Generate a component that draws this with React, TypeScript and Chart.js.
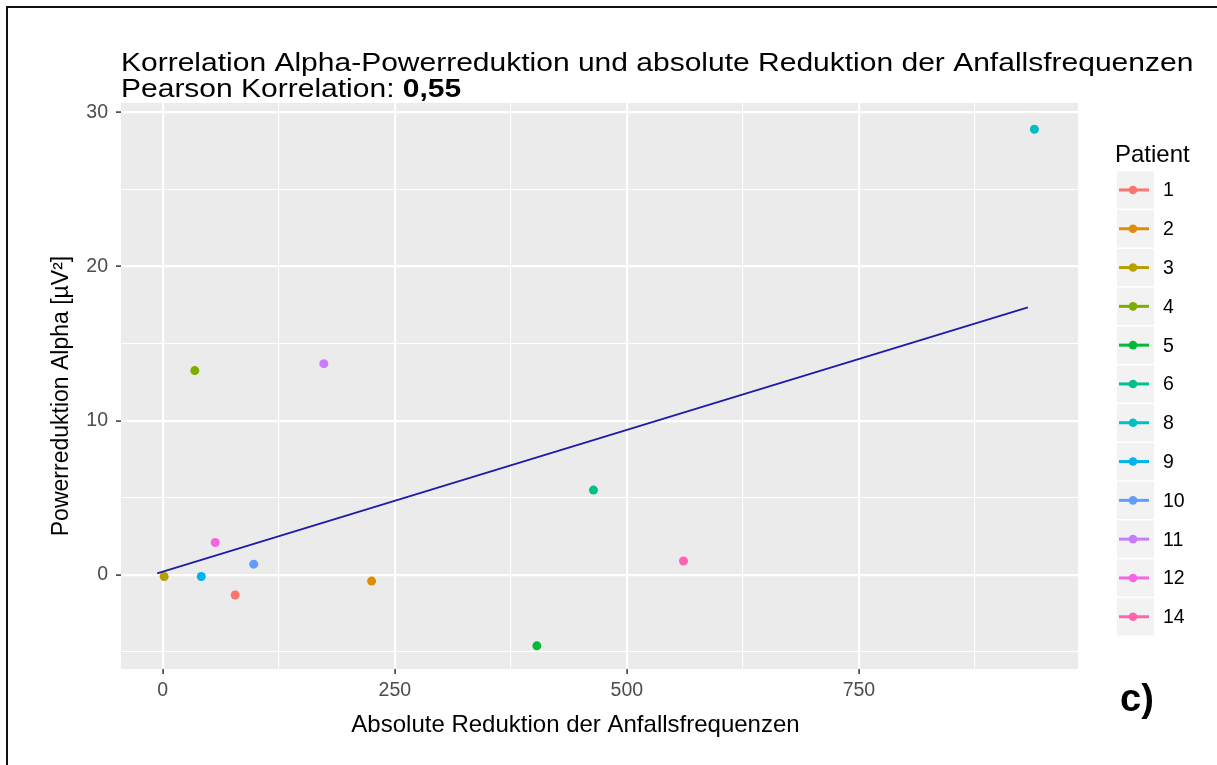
import React, { useEffect, useRef } from "react";
import { Chart, registerables } from "chart.js";
Chart.register(...registerables);

const patients = ["1", "2", "3", "4", "5", "6", "8", "9", "10", "11", "12", "14"];
const reduction = [78, 225, 1.5, 34.5, 403, 464, 939, 41.5, 98, 173.5, 56.5, 561];
const powerAlpha = [-1.3, -0.4, -0.1, 13.25, -4.6, 5.5, 28.9, -0.1, 0.7, 13.7, 2.1, 0.9];
const colors = ["#F8766D", "#DE8C00", "#B79F00", "#7CAE00", "#00BA38", "#00C08B", "#00BFC4", "#00B4F0", "#619CFF", "#C77CFF", "#F564E3", "#FF64B0"];
const fitX = [-6, 932];
const fitY = [0.1, 17.35];
const xMajor = [0, 250, 500, 750];
const xMinor = [125, 375, 625, 875];
const yMajor = [0, 10, 20, 30];
const yMinor = [-5, 5, 15, 25];
const titleLine1 = "Korrelation Alpha-Powerreduktion und absolute Reduktion der Anfallsfrequenzen";
const titleLine2 = "Pearson Korrelation: ";
const titleBold = "0,55";
const xTitle = "Absolute Reduktion der Anfallsfrequenzen";
const yTitle = "Powerreduktion Alpha [µV²]";
const legendTitle = "Patient";
const panelLabel = "c)";

const FONT = "'Liberation Sans', Arial, sans-serif";

const decor = {
  id: "decor",
  beforeDraw(chart: any) {
    const { ctx, chartArea: a } = chart;
    ctx.save();
    ctx.fillStyle = "#FFFFFF";
    ctx.fillRect(0, 0, chart.width, chart.height);
    ctx.fillStyle = "#EBEBEB";
    ctx.fillRect(a.left, a.top, a.right - a.left, a.bottom - a.top);
    ctx.restore();
  },
  afterDraw(chart: any) {
    const { ctx, chartArea: a } = chart;
    ctx.save();
    // frame
    ctx.strokeStyle = "#111";
    ctx.lineWidth = 2;
    ctx.beginPath();
    ctx.moveTo(7, chart.height + 5);
    ctx.lineTo(7, 7);
    ctx.lineTo(chart.width + 5, 7);
    ctx.stroke();

    // title (slightly widened glyphs, as in the reference)
    ctx.fillStyle = "#000";
    ctx.textBaseline = "alphabetic";
    ctx.textAlign = "left";
    ctx.save();
    ctx.translate(a.left, 0);
    ctx.scale(1.2, 1);
    ctx.font = `25px ${FONT}`;
    ctx.fillText(titleLine1, 0, 71);
    ctx.fillText(titleLine2, 0, 97);
    const w2 = ctx.measureText(titleLine2).width;
    ctx.font = `bold 25px ${FONT}`;
    ctx.fillText(titleBold, w2, 97);
    ctx.restore();

    // axis titles
    ctx.font = `24px ${FONT}`;
    ctx.textAlign = "center";
    ctx.textBaseline = "middle";
    ctx.fillText(xTitle, 575.5, 725);
    ctx.save();
    ctx.translate(62, 396);
    ctx.rotate(-Math.PI / 2);
    ctx.font = `23px ${FONT}`;
    ctx.fillText(yTitle, 0, 0);
    ctx.restore();

    // legend
    ctx.textAlign = "left";
    ctx.textBaseline = "alphabetic";
    ctx.font = `24px ${FONT}`;
    ctx.fillText(legendTitle, 1115, 162);
    const lx = 1117, boxW = 37, top0 = 171.3, step = 38.8;
    const ds = chart.data.datasets.filter((d: any) => d.isPatient);
    ds.forEach((d: any, i: number) => {
      const y0 = top0 + i * step;
      ctx.fillStyle = "#F2F2F2";
      ctx.fillRect(lx, y0, boxW, step - 1.5);
      const cy = y0 + (step - 1.5) / 2;
      ctx.strokeStyle = d.backgroundColor;
      ctx.lineWidth = 3;
      ctx.beginPath();
      ctx.moveTo(lx + 2, cy);
      ctx.lineTo(lx + boxW - 5, cy);
      ctx.stroke();
      ctx.fillStyle = d.backgroundColor;
      ctx.beginPath();
      ctx.arc(lx + 16, cy, 4.3, 0, Math.PI * 2);
      ctx.fill();
      ctx.fillStyle = "#000";
      ctx.font = `19.5px ${FONT}`;
      ctx.textBaseline = "middle";
      ctx.fillText(d.label, 1163, cy + 1);
      ctx.textBaseline = "alphabetic";
    });

    // panel label
    ctx.fillStyle = "#000";
    ctx.font = `bold 38px ${FONT}`;
    ctx.fillText(panelLabel, 1120, 711);
    ctx.restore();
  },
};

export default function App() {
  const ref = useRef<HTMLCanvasElement | null>(null);
  useEffect(() => {
    if (!ref.current) return;
    const patientSets = patients.map((p, i) => ({
      label: p,
      isPatient: true,
      data: [{ x: reduction[i], y: powerAlpha[i] }],
      backgroundColor: colors[i],
      borderColor: colors[i],
      pointRadius: 4.5,
      pointBorderWidth: 0,
      showLine: false,
    }));
    const fitSet = {
      label: "fit",
      isPatient: false,
      data: fitX.map((x, i) => ({ x, y: fitY[i] })),
      borderColor: "#1C1CA8",
      backgroundColor: "#1C1CA8",
      borderWidth: 1.7,
      pointRadius: 0,
      showLine: true,
    };
    const isMajorX = (v: number) => xMajor.includes(v);
    const isMajorY = (v: number) => yMajor.includes(v);
    const chart = new Chart(ref.current, {
      type: "scatter",
      data: { datasets: [fitSet as any, ...patientSets] },
      plugins: [decor],
      options: {
        animation: false,
        responsive: false,
        devicePixelRatio: 1,
        layout: { padding: { left: 0, top: 103, right: 139, bottom: 0 } },
        plugins: { legend: { display: false }, title: { display: false }, tooltip: { enabled: false } },
        scales: {
          x: {
            type: "linear",
            min: -45,
            max: 986,
            afterBuildTicks: (s: any) => {
              s.ticks = [...xMajor, ...xMinor].sort((p, q) => p - q).map((v) => ({ value: v }));
            },
            afterFit: (s: any) => {
              s.height = 96;
            },
            ticks: {
              autoSkip: false,
              maxRotation: 0,
              padding: 5,
              color: "#4D4D4D",
              font: { family: FONT, size: 19.5 },
              callback: (v: any) => (isMajorX(v) ? String(v) : ""),
            },
            grid: {
              color: "#FFFFFF",
              lineWidth: (c: any) => (c.tick && isMajorX(c.tick.value) ? 2.2 : 1.1),
              tickColor: (c: any) => (c.tick && isMajorX(c.tick.value) ? "#333333" : "rgba(0,0,0,0)"),
              tickLength: 5,
              tickWidth: 1.5,
            },
            border: { display: false },
          },
          y: {
            type: "linear",
            min: -6.1,
            max: 30.6,
            afterBuildTicks: (s: any) => {
              s.ticks = [...yMajor, ...yMinor].sort((p, q) => p - q).map((v) => ({ value: v }));
            },
            afterFit: (s: any) => {
              s.width = 121;
            },
            ticks: {
              autoSkip: false,
              padding: 8,
              color: "#4D4D4D",
              font: { family: FONT, size: 19.5 },
              callback: (v: any) => (isMajorY(v) ? String(v) : ""),
            },
            grid: {
              color: "#FFFFFF",
              lineWidth: (c: any) => (c.tick && isMajorY(c.tick.value) ? 2.2 : 1.1),
              tickColor: (c: any) => (c.tick && isMajorY(c.tick.value) ? "#333333" : "rgba(0,0,0,0)"),
              tickLength: 5,
              tickWidth: 1.5,
            },
            border: { display: false },
          },
        },
      } as any,
    });
    return () => chart.destroy();
  }, []);
  return (
    <div style={{ position: "absolute", left: 0, top: 0, width: 1217, height: 765, overflow: "hidden" }}>
      <canvas ref={ref} width={1217} height={765} style={{ display: "block", width: 1217, height: 765 }} />
    </div>
  );
}
